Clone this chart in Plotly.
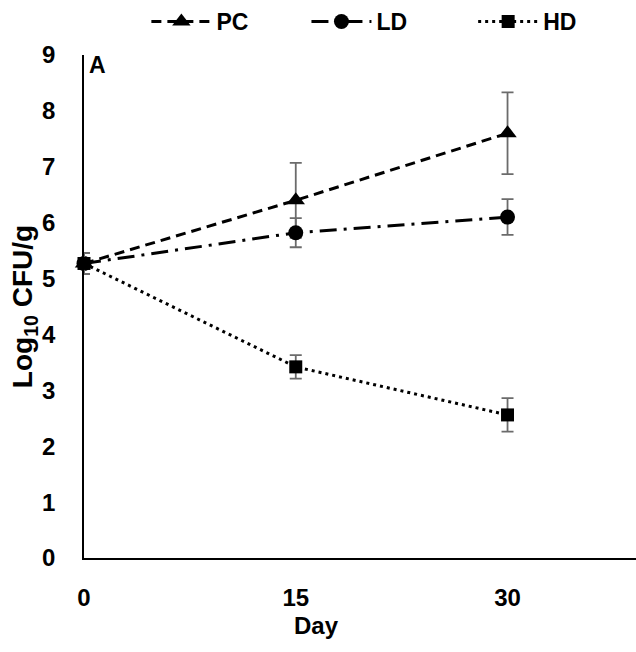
import plotly.graph_objects as go

days = [0, 15, 30]
series_names = ["PC", "LD", "HD"]
pc_mean = [5.27, 6.40, 7.60]
pc_err = [0.19, 0.67, 0.73]
ld_mean = [5.27, 5.82, 6.10]
ld_err = [0.19, 0.26, 0.32]
hd_mean = [5.27, 3.42, 2.56]
hd_err = [0.19, 0.21, 0.30]
y_ticks = [0, 1, 2, 3, 4, 5, 6, 7, 8, 9]
x_ticks = [0, 15, 30]

FONT = "Liberation Sans"
styles = {
    "PC": dict(dash="10px,6px", symbol="triangle-up", size=16, legend="legend", lx=0.113),
    "LD": dict(dash="17px,7px,3px,7px", symbol="circle", size=15, legend="legend2", lx=0.403),
    "HD": dict(dash="3px,4px", symbol="square", size=13, legend="legend3", lx=0.705),
}

fig = go.Figure()
for name, mean, err in zip(series_names, [pc_mean, ld_mean, hd_mean], [pc_err, ld_err, hd_err]):
    s = styles[name]
    fig.add_trace(go.Scatter(
        x=days, y=mean, name=name, mode="lines+markers",
        line=dict(color="black", width=3, dash=s["dash"]),
        marker=dict(color="black", symbol=s["symbol"], size=s["size"]),
        error_y=dict(type="data", array=err, visible=True, color="#6b6b6b", thickness=1.8, width=6),
        cliponaxis=False, legend=s["legend"],
    ))

legend_common = dict(orientation="h", y=1.024, yanchor="bottom", xanchor="left",
                     font=dict(family=FONT, size=23, color="black", weight="bold"),
                     itemwidth=60, bgcolor="rgba(0,0,0,0)")

fig.update_layout(
    width=636, height=652,
    margin=dict(l=84, r=0, t=52, b=94),
    plot_bgcolor="white", paper_bgcolor="white",
    font=dict(family=FONT, size=24, color="black"),
    showlegend=True,
    legend=dict(x=styles["PC"]["lx"], **legend_common),
    legend2=dict(x=styles["LD"]["lx"], **legend_common),
    legend3=dict(x=styles["HD"]["lx"], **legend_common),
    xaxis=dict(range=[0, 39.1], tickvals=x_ticks, ticktext=[str(v) for v in x_ticks],
               showgrid=False, zeroline=False, showline=True, linecolor="black", linewidth=1.5,
               ticks="outside", ticklen=0, ticklabelstandoff=17,
               tickfont=dict(family=FONT, size=24, color="black", weight="bold")),
    yaxis=dict(range=[0, 9], tickvals=y_ticks, showgrid=False, zeroline=False,
               showline=True, linecolor="black", linewidth=1.5,
               ticks="outside", ticklen=0, ticklabelstandoff=22,
               tickfont=dict(family=FONT, size=24, color="black", weight="bold"),
               title=dict(text="<b>Log<sub>10</sub> CFU/g</b>", standoff=1,
                          font=dict(family=FONT, size=28, color="black"))),
    annotations=[
        dict(text="<b>A</b>", xref="paper", yref="paper", x=0.005, y=1.01, xanchor="left", yanchor="top",
             showarrow=False, font=dict(family=FONT, size=23, color="black")),
        dict(text="<b>Day</b>", xref="paper", yref="paper", x=0.422, y=-0.134, xanchor="center", yanchor="middle",
             showarrow=False, font=dict(family=FONT, size=24, color="black")),
    ],
)

fig.write_html("out.html", config={"displayModeBar": False},
               post_script="document.body.style.margin='0px';")
